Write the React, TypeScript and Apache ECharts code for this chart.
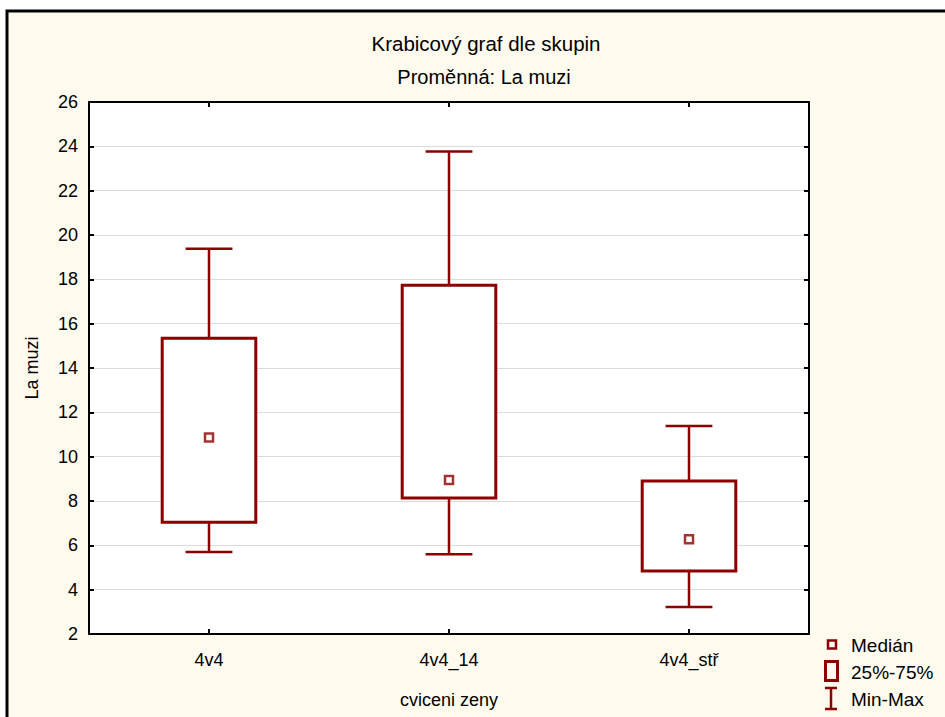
import React, { useEffect, useRef } from "react";
import * as echarts from "echarts";

const categories = ["4v4", "4v4_14", "4v4_stř"];
const minValues = [5.7, 5.6, 3.22];
const q1Values = [7.04, 8.13, 4.84];
const medianValues = [10.87, 8.95, 6.27];
const q3Values = [15.34, 17.73, 8.9];
const maxValues = [19.38, 23.77, 11.38];
const yMin = 2;
const yMax = 26;
const yStep = 2;

const titleText = "Krabicový graf dle skupin";
const subtitleText = "Proměnná: La muzi";
const yName = "La muzi";
const xName = "cviceni zeny";
const legendNames = ["Medián", "25%-75%", "Min-Max"];

const C = "#8b0000";
const FONT = "'Liberation Sans', Arial, sans-serif";

export default function App() {
  const ref = useRef<HTMLDivElement>(null);
  useEffect(() => {
    if (!ref.current) return;
    const chart = echarts.init(ref.current, undefined, { renderer: "svg" });
    const boxData = categories.map((_, i) => [i, minValues[i], q1Values[i], q3Values[i], maxValues[i]]);
    const medData = categories.map((_, i) => [i, medianValues[i]]);
    const txt = (t: string, x: number, y: number, size: number, align = "left", rot = 0) => ({
      type: "text",
      x,
      y,
      rotation: rot,
      z: 10,
      style: {
        text: t,
        fill: "#000",
        font: `${size}px ${FONT}`,
        textAlign: align,
        textVerticalAlign: "middle",
      },
    });
    const axisCommon = {
      axisLine: { show: true, onZero: false, lineStyle: { color: "#000", width: 2 } },
      axisTick: { show: true, inside: true, length: 5, lineStyle: { color: "#000", width: 2 } },
    };
    chart.setOption({
      animation: false,
      backgroundColor: "#ffffff",
      textStyle: { fontFamily: FONT },
      graphic: [
        {
          type: "rect",
          z: -100,
          shape: { x: 7, y: 11, width: 960, height: 730 },
          style: { fill: "#fffaee", stroke: "#000", lineWidth: 3 },
        },
        txt(titleText, 486, 43, 20.5, "center"),
        txt(subtitleText, 484, 77, 20, "center"),
        txt(yName, 32, 368, 18, "center", Math.PI / 2),
        txt(xName, 449, 700, 18, "center"),
        {
          type: "rect",
          z: 10,
          shape: { x: 828, y: 640.5, width: 8, height: 8 },
          style: { fill: "#fff", stroke: C, lineWidth: 2.5 },
        },
        txt(legendNames[0], 851, 645, 19),
        {
          type: "rect",
          z: 10,
          shape: { x: 825.5, y: 661.5, width: 12, height: 19 },
          style: { fill: "none", stroke: C, lineWidth: 3 },
        },
        txt(legendNames[1], 851, 672, 19),
        { type: "line", z: 10, shape: { x1: 825, y1: 688, x2: 837, y2: 688 }, style: { stroke: C, lineWidth: 2.5 } },
        { type: "line", z: 10, shape: { x1: 831, y1: 688, x2: 831, y2: 709 }, style: { stroke: C, lineWidth: 2.5 } },
        { type: "line", z: 10, shape: { x1: 825, y1: 709, x2: 837, y2: 709 }, style: { stroke: C, lineWidth: 2.5 } },
        txt(legendNames[2], 851, 699, 19),
      ],
      grid: {
        left: 89,
        top: 102,
        right: 136,
        bottom: 83,
        show: true,
        backgroundColor: "#ffffff",
        borderWidth: 0,
      },
      xAxis: [
        {
          type: "category",
          data: categories,
          position: "bottom",
          ...axisCommon,
          axisTick: { ...axisCommon.axisTick, alignWithLabel: true },
          axisLabel: { color: "#000", fontSize: 18, margin: 17, fontFamily: FONT },
          splitLine: { show: false },
        },
        {
          type: "category",
          data: categories,
          position: "top",
          ...axisCommon,
          axisTick: { ...axisCommon.axisTick, alignWithLabel: true },
          axisLabel: { show: false },
          splitLine: { show: false },
        },
      ],
      yAxis: [
        {
          type: "value",
          min: yMin,
          max: yMax,
          interval: yStep,
          position: "left",
          ...axisCommon,
          axisLabel: { color: "#000", fontSize: 18, margin: 11, fontFamily: FONT },
          splitLine: { show: true, lineStyle: { color: "#dcdcdc", width: 1 } },
        },
        {
          type: "value",
          min: yMin,
          max: yMax,
          interval: yStep,
          position: "right",
          ...axisCommon,
          axisLabel: { show: false },
          splitLine: { show: false },
        },
      ],
      series: [
        {
          type: "custom",
          xAxisIndex: 0,
          yAxisIndex: 0,
          z: 3,
          encode: { x: 0, y: [1, 2, 3, 4] },
          data: boxData,
          renderItem: (params: any, api: any) => {
            const xi = api.value(0);
            const pLo = api.coord([xi, api.value(1)]);
            const pQ1 = api.coord([xi, api.value(2)]);
            const pQ3 = api.coord([xi, api.value(3)]);
            const pHi = api.coord([xi, api.value(4)]);
            const band = api.size([1, 0])[0];
            const bw = band * 0.39;
            const cw = band * 0.195;
            const cx = pLo[0];
            const ls = { stroke: C, lineWidth: 2.5 };
            return {
              type: "group",
              children: [
                { type: "line", shape: { x1: cx, y1: pHi[1], x2: cx, y2: pQ3[1] }, style: ls },
                { type: "line", shape: { x1: cx, y1: pQ1[1], x2: cx, y2: pLo[1] }, style: ls },
                { type: "line", shape: { x1: cx - cw / 2, y1: pHi[1], x2: cx + cw / 2, y2: pHi[1] }, style: ls },
                { type: "line", shape: { x1: cx - cw / 2, y1: pLo[1], x2: cx + cw / 2, y2: pLo[1] }, style: ls },
                {
                  type: "rect",
                  shape: { x: cx - bw / 2, y: pQ3[1], width: bw, height: pQ1[1] - pQ3[1] },
                  style: { fill: "#ffffff", stroke: C, lineWidth: 3 },
                },
              ],
            };
          },
        },
        {
          type: "scatter",
          xAxisIndex: 0,
          yAxisIndex: 0,
          z: 5,
          symbol: "rect",
          symbolSize: 8,
          data: medData,
          itemStyle: { color: "#ffffff", borderColor: C, borderWidth: 2.5 },
        },
      ],
    });
    return () => chart.dispose();
  }, []);
  return (
    <div
      ref={ref}
      style={{ position: "fixed", left: 0, top: 0, width: 945, height: 717 }}
    />
  );
}
